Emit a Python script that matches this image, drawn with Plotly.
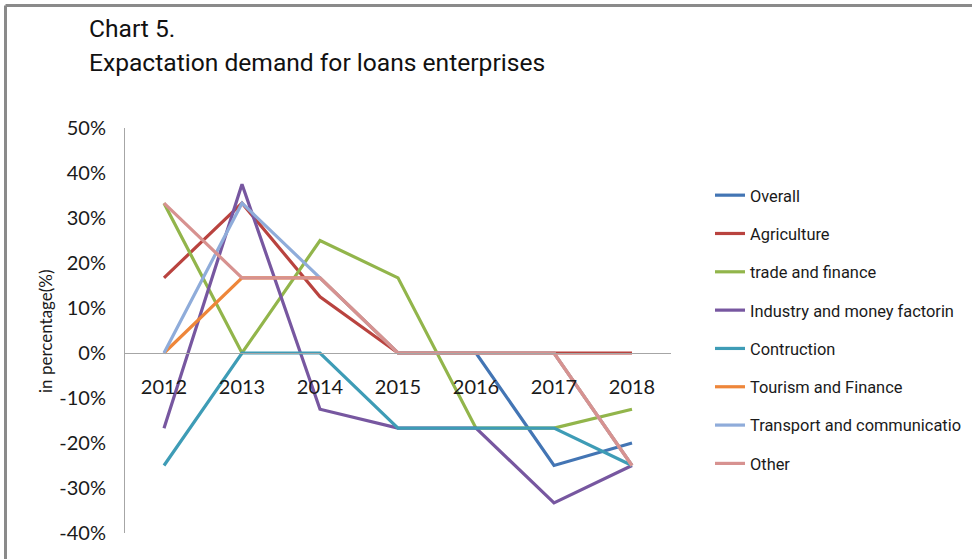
import plotly.graph_objects as go

# Survey years on the category axis
years = ["2012", "2013", "2014", "2015", "2016", "2017", "2018"]

# Expected demand for loans by sector (share of respondents, as fractions)
overall = [None, None, None, 0.0, 0.0, -0.25, -0.20]
agriculture = [0.167, 0.333, 0.125, 0.0, 0.0, 0.0, 0.0]
trade_finance = [0.333, 0.0, 0.25, 0.167, -0.167, -0.167, -0.125]
industry = [-0.167, 0.375, -0.125, -0.167, -0.167, -0.333, -0.25]
construction = [-0.25, 0.0, 0.0, -0.167, -0.167, -0.167, -0.25]
tourism = [0.0, 0.167, 0.167, 0.0, 0.0, 0.0, -0.25]
transport = [0.0, 0.333, 0.167, 0.0, 0.0, 0.0, -0.25]
other = [0.333, 0.167, 0.167, 0.0, 0.0, 0.0, -0.25]

series_names = [
    "Overall", "Agriculture", "trade and finance", "Industry and money factorin",
    "Contruction", "Tourism and Finance", "Transport and communicatio", "Other",
]
series_values = [overall, agriculture, trade_finance, industry,
                 construction, tourism, transport, other]
series_colors = ["#4375B4", "#B9433F", "#92B54B", "#7757A0",
                 "#3E9CB6", "#EE863A", "#8FACDA", "#D79290"]

# Y-axis ticks (labels written with a plain hyphen)
ytick_vals = [0.5, 0.4, 0.3, 0.2, 0.1, 0.0, -0.1, -0.2, -0.3, -0.4]
ytick_text = ["50%", "40%", "30%", "20%", "10%", "0%", "-10%", "-20%", "-30%", "-40%"]

TICK_FONT = dict(family="Lato, Carlito, sans-serif", size=20, color="#1a1a1a")
NARROW = "Roboto, Liberation Sans, sans-serif"

# pixel geometry of the plotting area
W, H = 972, 559
L, R, T, B = 125, 671, 128, 533


def px_x(px):
    return (px - L) / (R - L)


def px_y(py):
    return (B - py) / (B - T)


fig = go.Figure()
for i, (name, vals, col) in enumerate(zip(series_names, series_values, series_colors)):
    fig.add_trace(go.Scatter(
        x=years, y=vals, name=name, mode="lines",
        line=dict(color=col, width=3.2),
        legendgroup=f"g{i}", connectgaps=False,
    ))

ymin, ymax = -0.4, 0.5
zero_pos = (0 - ymin) / (ymax - ymin)

fig.update_layout(
    width=W, height=H,
    margin=dict(l=L, r=W - R, t=T, b=H - B, pad=0, autoexpand=False),
    paper_bgcolor="white", plot_bgcolor="white",
    showlegend=True,
    legend=dict(
        x=px_x(710), xanchor="left", y=px_y(178), yanchor="top",
        font=dict(family=NARROW, size=16.4, color="#1a1a1a"),
        tracegroupgap=14, bgcolor="rgba(0,0,0,0)",
    ),
    xaxis=dict(
        type="category", range=[-0.5, 6.5],
        anchor="free", position=zero_pos,
        showline=True, linecolor="#A6A6A6", linewidth=1,
        ticks="outside", ticklen=16, tickcolor="rgba(0,0,0,0)",
        showgrid=False, zeroline=False, tickfont=TICK_FONT,
    ),
    yaxis=dict(
        range=[ymin, ymax], tickmode="array",
        tickvals=ytick_vals, ticktext=ytick_text,
        showline=True, linecolor="#A6A6A6", linewidth=1,
        ticks="outside", ticklen=14, tickcolor="rgba(0,0,0,0)",
        showgrid=False, zeroline=False, tickfont=TICK_FONT,
    ),
    annotations=[
        dict(text="Chart 5.", xref="paper", yref="paper",
             x=px_x(87), y=px_y(12), xanchor="left", yanchor="top",
             showarrow=False, font=dict(family=NARROW, size=24.6, color="#111")),
        dict(text="Expactation demand for loans enterprises", xref="paper", yref="paper",
             x=px_x(87), y=px_y(46), xanchor="left", yanchor="top",
             showarrow=False, font=dict(family=NARROW, size=24.6, color="#111")),
        dict(text="in percentage(%)", xref="paper", yref="paper",
             x=px_x(45), y=px_y(331), xanchor="center", yanchor="middle",
             textangle=-90, showarrow=False,
             font=dict(family="Lato, Carlito, sans-serif", size=17, color="#1a1a1a")),
    ],
    shapes=[
        dict(type="line", xref="paper", yref="paper",
             x0=px_x(5.5), x1=px_x(W + 2), y0=px_y(5.5), y1=px_y(5.5),
             line=dict(color="#8A8A8A", width=3)),
        dict(type="line", xref="paper", yref="paper",
             x0=px_x(5.5), x1=px_x(5.5), y0=px_y(5.5), y1=px_y(H + 2),
             line=dict(color="#8A8A8A", width=3)),
    ],
)

fig.write_html("out.html")
